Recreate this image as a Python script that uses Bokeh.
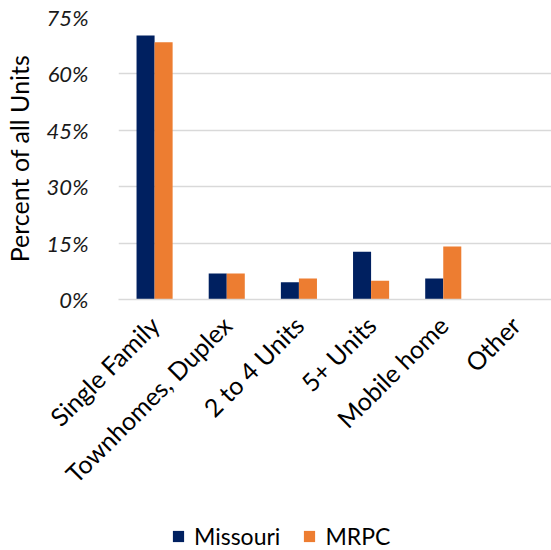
import math

from bokeh.embed import file_html
from bokeh.layouts import column
from bokeh.models import (ColumnDataSource, FactorRange, Legend, LegendItem,
                          PrintfTickFormatter, Range1d, FixedTicker)
from bokeh.plotting import figure
from bokeh.resources import INLINE
from bokeh.transform import dodge

# Housing units by structure type, share of all units (%)
categories = ["Single Family", "Townhomes, Duplex", "2 to 4 Units",
              "5+ Units", "Mobile home", "Other"]
missouri = [70.2, 6.9, 4.6, 12.7, 5.6, 0.0]
mrpc = [68.4, 6.9, 5.6, 5.0, 14.1, 0.0]
y_ticks = [0, 15, 30, 45, 60, 75]

NAVY = "#002060"
ORANGE = "#ED7D31"
GRID = "#D9D9D9"
FONT = "Lato"

source = ColumnDataSource(data=dict(cat=categories, missouri=missouri, mrpc=mrpc))
x_range = FactorRange(factors=categories, range_padding=0)

p = figure(
    width=551, height=501,
    x_range=x_range,
    y_range=Range1d(0, 75),
    output_backend="svg", toolbar_location=None,
    min_border_left=115, min_border_right=0, min_border_top=17,
    min_border_bottom=201,
)
p.outline_line_color = None
p.background_fill_color = "white"
p.border_fill_color = "white"

p.vbar(x=dodge("cat", -0.125, range=x_range), top="missouri", width=0.25,
       source=source, fill_color=NAVY, line_color=None)
p.vbar(x=dodge("cat", 0.125, range=x_range), top="mrpc", width=0.25,
       source=source, fill_color=ORANGE, line_color=None)

# grid
p.xgrid.grid_line_color = None
p.ygrid.grid_line_color = GRID
p.ygrid.grid_line_width = 1.5

# y axis
p.yaxis.ticker = FixedTicker(ticks=y_ticks)
p.yaxis.formatter = PrintfTickFormatter(format="%d%%")
p.yaxis.axis_line_color = None
p.yaxis.major_tick_line_color = None
p.yaxis.minor_tick_line_color = None
p.yaxis.major_label_text_font = FONT
p.yaxis.major_label_text_font_style = "italic"
p.yaxis.major_label_text_font_size = "22px"
p.yaxis.major_label_text_color = "#1a1a1a"
p.yaxis.major_label_standoff = 24
p.yaxis.axis_label = "Percent of all Units"
p.yaxis.axis_label_text_font = FONT
p.yaxis.axis_label_text_font_style = "normal"
p.yaxis.axis_label_text_font_size = "25px"
p.yaxis.axis_label_text_color = "#000000"
p.yaxis.axis_label_standoff = 10

# x axis
p.xaxis.axis_line_color = GRID
p.xaxis.axis_line_width = 1.5
p.xaxis.major_tick_line_color = None
p.xaxis.minor_tick_line_color = None
p.xaxis.major_label_orientation = math.pi / 4
p.xaxis.major_label_text_font = FONT
p.xaxis.major_label_text_font_size = "25px"
p.xaxis.major_label_text_color = "#000000"
p.xaxis.major_label_standoff = 15

# legend strip underneath the chart; its bars sit outside the visible y range
lg = figure(
    width=551, height=49,
    x_range=x_range, y_range=Range1d(100, 101),
    output_backend="svg", toolbar_location=None,
    min_border=0,
)
lg.axis.visible = False
lg.grid.visible = False
lg.outline_line_color = None
r1 = lg.vbar(x="cat", top="missouri", width=0.25, source=source,
             fill_color=NAVY, line_color=None)
r2 = lg.vbar(x="cat", top="mrpc", width=0.25, source=source,
             fill_color=ORANGE, line_color=None)

legend = Legend(
    items=[LegendItem(label="Missouri", renderers=[r1]),
           LegendItem(label="MRPC", renderers=[r2])],
    orientation="horizontal",
    location=(53, 0),
    label_text_font=FONT,
    label_text_font_size="23px",
    label_text_color="#000000",
    glyph_width=14, glyph_height=14,
    label_standoff=9, spacing=22,
    padding=0, margin=0,
    border_line_color=None, background_fill_alpha=0,
)
lg.add_layout(legend, "center")

open("out.html", "w").write(file_html(column(p, lg, spacing=0), INLINE))
